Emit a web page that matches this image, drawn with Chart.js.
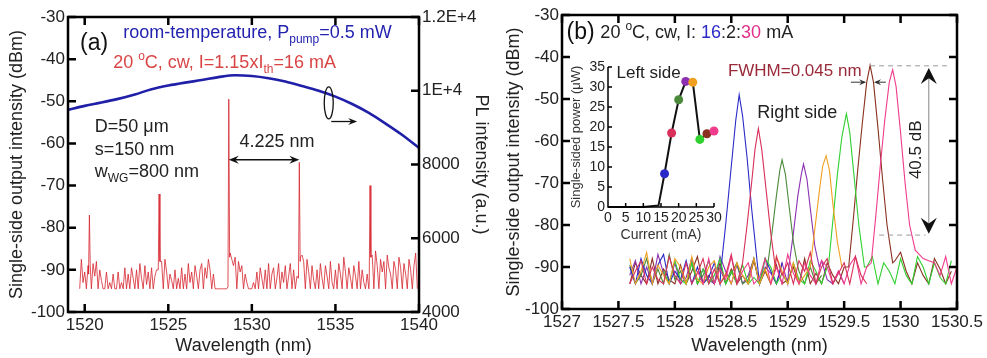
<!DOCTYPE html>
<html><head><meta charset="utf-8">
<script src="https://cdn.jsdelivr.net/npm/chart.js@4.4.0/dist/chart.umd.min.js"></script>
<style>
html,body{margin:0;padding:0;background:#fff;}
#wrap{position:relative;width:987px;height:358px;overflow:hidden;}
canvas{position:absolute;}
</style></head><body>
<div id="wrap">
  <canvas id="cA" width="497" height="358" style="left:0;top:0"></canvas>
  <canvas id="cB" width="490" height="358" style="left:497px;top:0"></canvas>
  <canvas id="cIn" width="165" height="190" style="left:565px;top:55px"></canvas>
</div>
<script>
// Lasing spectra of the microdisk laser: (a) full span near threshold + room-temperature PL,
// (b) right-side spectra for I = 16:2:30 mA, inset = left-side power vs current.
const FONT="'Liberation Sans', Arial, sans-serif";
Chart.defaults.font.family=FONT;
Chart.defaults.color='#222';

// ---- panel (a) ----
const xTicksA=[1520,1525,1530,1535,1540];
const yTicks=[-100,-90,-80,-70,-60,-50,-40,-30];
const plTicks=[4000,6000,8000,10000,12000];
const plTickLabels=['4000','6000','8000','1E+4','1.2E+4'];
// PL intensity (a.u.), right axis
const plWl=[1519,1520,1521,1522,1523,1524,1525,1526,1527,1528,1529,1530,1531,1532,1533,1534,1535,1536,1537,1538,1539,1540];
const plVal=[9480,9590,9680,9780,9900,10040,10140,10220,10290,10370,10420,10400,10340,10250,10130,10000,9840,9640,9400,9110,8800,8450];
// spectrum at I=16 mA: noise samples every 0.1 nm from 1519.7 nm
const aStart=1519.7, aStep=0.1;
const aNoise=[
 -94.5,-87.5,-93,
 -90.5,-94.5,-89,-88,-94.5,-88.5,-91.5,-88,-94.5,-90,
 -92.5,-94.5,-94.5,-90.5,-94.5,-93,-94.5,-91,-94.5,-94.5,
 -90.5,-94.5,-93,-94.5,-89.5,-94.5,-91,-94.5,-89.5,-92,
 -94.5,-90,-94.5,-88.5,-92,-94.5,-89,-93.5,-90.5,-94.5,
 -89.5,-94.5,-91.5,-90,-94.5,-86.5,-88,-94.5,-87.5,-90.5,
 -94.5,-91,-92.5,-94.5,-90,-94.5,-92,-94.5,-89.5,-94.5,
 -91,-94.5,-88.5,-93,-90.5,-94.5,-89,-91.5,-94.5,-90,
 -88.5,-94.5,-89.5,-92,-87.5,-90,-94.5,-91,-94.5,-94.5,
 -94.5,-94.5,-94.5,-94.5,-94.5,-94.5,-94.5,-86,-87.5,-89,
 -87,-94.5,-88,-90.5,-89,-94.5,-91,-93,-94.5,-94.5,
 -94.5,-93,-94.5,-90.5,-94.5,-89.5,-92,-94.5,-90,-94.5,
 -88.5,-94.5,-91,-89.5,-94.5,-92,-88.5,-94.5,-90.5,-93,
 -89,-94.5,-91.5,-88.5,-94.5,-90,-94.5,-91.5,-90,-87,
 -86.5,-88,-94.5,-87.5,-90.5,-94.5,-89,-92.5,-94.5,-90,
 -94.5,-88.5,-92,-94.5,-89,-91.5,-94.5,-88,-93,-94.5,
 -90,-94.5,-88.5,-91,-94.5,-87,-90.5,-94.5,-89.5,-92,
 -94.5,-89,-91.5,-94.5,-88,-94.5,-90,-93,-94.5,-91,
 -94.5,-88,-86.5,-94.5,-85.5,-89,-94.5,-87.5,-90.5,-88,
 -94.5,-86.5,-89.5,-91,-94.5,-88,-90,-94.5,-87,-89.5,
 -94.5,-88.5,-91,-94.5,-87.5,-90,-94.5,-89,-86,-94.5
];
// WGM lasing lines, [wavelength, dBm]
const aLines=[
 [[1520.23,-91],[1520.28,-77],[1520.33,-89]],
 [[1524.40,-90],[1524.45,-72],[1524.50,-88]],
 [[1528.57,-94],[1528.62,-49.5],[1528.67,-87]],
 [[1532.79,-92],[1532.84,-64.5],[1532.89,-88]],
 [[1537.02,-93],[1537.07,-70],[1537.12,-87]]
];

// ---- panel (b) ----
const xTicksB=[1527,1527.5,1528,1528.5,1529,1529.5,1530,1530.5];
const currents=[16,18,20,22,24,26,28,30];
const bColors=['#2a2ac8','#d8305a','#4a8a3a','#8a30b0','#f0a020','#30d030','#8a3020','#f03c8c'];
const bStep=0.05;
const bStarts=[1527.6,1527.6,1527.6,1527.6,1527.6,1527.9,1527.6,1528.2];
const bNoise16=[-90,-94,-88,-92,-94,-89.5,-87,-94,-91,-93,-88.5,-94,-90,-94,-92.5,-89,-94,-91,-94,-94,-94,-94,-94,-94,-88,-91,-94,-89];
const bNoise18=[-94,-91,-88.5,-94,-90,-93,-94,-87.5,-92,-94,-89,-94,-91.5,-88,-94,-90.5,-94,-92,-87,-94,-89.5,-91,-94,-88,-90,-94,-87.5,-92,-89,-94,-88.5,-91,-86.5,-94,-90,-88,-94,-91.5,-89,-94,-87.5,-92,-94];
const bNoise20=[-89.5,-94,-92,-88,-94,-90.5,-94,-87,-93,-91,-94,-89,-94,-92,-88.5,-94,-90,-94,-91.5,-89,-94,-93,-88,-94,-90.5,-94,-89,-92,-94,-88.5,-91,-94,-90,-94,-92];
const bNoise22=[-92,-88.5,-94,-90,-94,-87,-91.5,-94,-89,-94,-92.5,-88,-94,-90.5,-93,-94,-87.5,-91,-94,-89.5,-94,-92,-88,-94,-90,-91.5,-94,-89,-94,-87.5,-92,-94,-90.5,-94,-88.5,-93,-94,-91,-94];
const bNoise24=[-88,-94,-91,-86.5,-94,-89.5,-92,-94,-88,-90,-94,-87.5,-93,-94,-90,-88.5,-94,-91.5,-94,-89,-92,-94,-88,-94,-90.5,-94,-87.5,-91,-94,-89,-94,-92,-90];
const bNoise26=[-91,-94,-88.5,-93,-94,-89,-94,-90.5,-94,-92,-88,-94,-91,-94,-89.5,-94,-92.5,-94,-88,-90,-94,-91.5,-94,-89,-93,-94,-88.5,-91,-94,-90,-87,-94,-89.5,-86.5,-88,-94,-90,-87.5,-94,-89,-91,-94,-88,-92,-94,-87.5,-90,-94,-89,-92.5,-94,-88.5];
const bNoise28=[-94,-89,-92,-94,-88,-94,-90.5,-93,-94,-89.5,-94,-91,-87.5,-94,-92,-94,-89,-94,-90.5,-94,-92,-94,-88.5,-94,-91,-94,-89.5,-94,-93,-90,-94,-88,-94,-91.5,-94,-89,-92,-94,-90,-94,-88,-91,-94,-89.5,-87,-90,-94,-88.5,-86.5,-91,-94,-89,-92,-94,-88,-90.5,-94,-91];
const bNoise30=[-91,-94,-88,-94,-90.5,-93,-87.5,-94,-91,-89,-94,-92.5,-88,-94,-90,-94,-87,-91.5,-94,-89,-92,-94,-88.5,-90,-94,-91,-94,-89.5,-87.5,-94,-90,-92,-94,-87,-86.5,-89,-88,-91,-87.5,-90,-94,-88.5,-89,-92,-87.5,-94,-90];
const bPeak16=[[1528.41,-90],[1528.45,-80],[1528.50,-66],[1528.54,-55],[1528.57,-49],[1528.60,-54],[1528.64,-64],[1528.68,-76],[1528.73,-89]];
const bPeak18=[[1528.60,-89],[1528.64,-80],[1528.68,-70],[1528.71,-62],[1528.74,-57],[1528.77,-62],[1528.81,-72],[1528.85,-82],[1528.89,-90]];
const bPeak20=[[1528.82,-90],[1528.86,-82],[1528.90,-73],[1528.93,-67],[1528.95,-64.5],[1528.98,-68],[1529.01,-75],[1529.05,-84],[1529.09,-90]];
const bPeak22=[[1529.01,-90],[1529.05,-82],[1529.09,-73],[1529.12,-68],[1529.14,-65.5],[1529.17,-69],[1529.20,-76],[1529.24,-85],[1529.28,-90]];
const bPeak24=[[1529.20,-90],[1529.24,-81],[1529.28,-72],[1529.31,-66],[1529.34,-63.5],[1529.37,-67],[1529.40,-75],[1529.44,-84],[1529.48,-90]];
const bPeak26=[[1529.36,-90],[1529.40,-79],[1529.44,-68],[1529.48,-59],[1529.52,-53.5],[1529.55,-58],[1529.59,-69],[1529.63,-80],[1529.68,-90]];
const bPeak28=[[1529.54,-90],[1529.58,-79],[1529.62,-67],[1529.66,-56],[1529.70,-46],[1529.73,-42],[1529.76,-46],[1529.80,-57],[1529.84,-69],[1529.88,-80],[1529.93,-89]];
const bPeak30=[[1529.74,-89],[1529.78,-78],[1529.82,-66],[1529.86,-55],[1529.90,-46],[1529.93,-43],[1529.96,-47],[1530.00,-58],[1530.04,-70],[1530.08,-80],[1530.13,-86],[1530.20,-88]];
const bNoise=[bNoise16,bNoise18,bNoise20,bNoise22,bNoise24,bNoise26,bNoise28,bNoise30];
const bPeaks=[bPeak16,bPeak18,bPeak20,bPeak22,bPeak24,bPeak26,bPeak28,bPeak30];
const bLayer=[4,0,5,6,2,3,7,1];

// ---- inset: left-side power vs current ----
const sweepI=[0,5,10,14.3,16,18,20,22,24,26,28,30];
const sweepP=[0,0,0,0.4,8.3,18.5,26.8,31.4,31.2,16.9,18.3,19.0];
const inXTicks=[0,5,10,15,20,25,30];
const inYTicks=[0,5,10,15,20,25,30,35];

// merge noise samples with the lasing lines (noise under a line is dropped)
function spectrum(start,step,noise,lines){
  const pts=noise.map((y,i)=>({x:+(start+i*step).toFixed(3),y}))
    .filter(p=>!lines.some(l=>p.x>=l[0][0]&&p.x<=l[l.length-1][0]));
  lines.forEach(l=>l.forEach(p=>pts.push({x:p[0],y:p[1]})));
  return pts.sort((a,b)=>a.x-b.x);
}

function setTicks(vals){return s=>{s.ticks=vals.map(v=>({value:v}));};}
function axisBase(size,fmt){
  return {grid:{display:false,drawTicks:false},border:{display:false},
    ticks:{font:{size:size},color:'#222',autoSkip:false,maxRotation:0,padding:3,callback:fmt||(v=>String(v))}};
}

function innerTicks(chart,id,side,len){
  const s=chart.scales[id],a=chart.chartArea,ctx=chart.ctx;
  s.ticks.forEach(t=>{
    const p=s.getPixelForValue(t.value);
    if(side==='bottom'){ctx.moveTo(p,a.bottom);ctx.lineTo(p,a.bottom-len);}
    if(side==='top'){ctx.moveTo(p,a.top);ctx.lineTo(p,a.top+len);}
    if(side==='left'){ctx.moveTo(a.left,p);ctx.lineTo(a.left+len,p);}
    if(side==='right'){ctx.moveTo(a.right,p);ctx.lineTo(a.right-len,p);}
  });
}
function framePlugin(rightId){
  return {id:'frame',afterDraw(chart){
    const ctx=chart.ctx,a=chart.chartArea;
    ctx.save();ctx.strokeStyle='#000';ctx.lineWidth=2.5;
    ctx.strokeRect(a.left,a.top,a.width,a.height);
    ctx.beginPath();
    innerTicks(chart,'x','bottom',8);innerTicks(chart,'x','top',8);
    innerTicks(chart,'y','left',8);innerTicks(chart,rightId,'right',8);
    ctx.stroke();ctx.restore();
  }};
}

// rich text: parts = [text,color,'sub'|'sup'|undefined]
function rich(ctx,x,y,size,parts,align){
  ctx.textBaseline='middle';ctx.textAlign='left';
  const fontOf=k=>(k?Math.round(size*0.68):size)+'px '+FONT;
  let w=0;parts.forEach(p=>{ctx.font=fontOf(p[2]);w+=ctx.measureText(p[0]).width;});
  let cx=align==='center'?x-w/2:x;
  parts.forEach(p=>{
    ctx.font=fontOf(p[2]);ctx.fillStyle=p[1];
    const dy=p[2]==='sub'?size*0.38:(p[2]==='sup'?-size*0.35:0);
    ctx.fillText(p[0],cx,y+dy);cx+=ctx.measureText(p[0]).width;
  });
}
function head(ctx,x1,y1,x2,y2,len,half){
  const an=Math.atan2(y2-y1,x2-x1),c=Math.cos(an),s=Math.sin(an);
  ctx.beginPath();ctx.moveTo(x2,y2);
  ctx.lineTo(x2-len*c+half*s,y2-len*s-half*c);
  ctx.lineTo(x2-len*0.65*c,y2-len*0.65*s);
  ctx.lineTo(x2-len*c-half*s,y2-len*s+half*c);
  ctx.closePath();ctx.fill();
}

const BLUE='#2323b0', RED='#d94545', INK='#222';

// annotations for (a), anchored in data units
const notesA={id:'notesA',afterDatasetsDraw(chart){
  const ctx=chart.ctx,X=v=>chart.scales.x.getPixelForValue(v),Y=v=>chart.scales.y.getPixelForValue(v);
  ctx.save();
  rich(ctx,X(1519.72),Y(-36.3),23,[['(a)','#111']]);
  rich(ctx,X(1522.3),Y(-33.8),18,[['room-temperature, P',BLUE],['pump',BLUE,'sub'],['=0.5 mW',BLUE]]);
  rich(ctx,X(1521.7),Y(-40.9),18,[['20 ',RED],['o',RED,'sup'],['C, cw, I=1.15xI',RED],['th',RED,'sub'],['=16 mA',RED]]);
  rich(ctx,X(1520.6),Y(-56.1),18,[['D=50 \u03bcm',INK]]);
  rich(ctx,X(1520.6),Y(-61.6),18,[['s=150 nm',INK]]);
  rich(ctx,X(1520.6),Y(-66.8),18,[['w',INK],['WG',INK,'sub'],['=800 nm',INK]]);
  rich(ctx,X(1531.5),Y(-59.7),18,[['4.225 nm',INK]],'center');
  // mode spacing arrow
  const ay=Y(-63.9),x1=X(1528.62),x2=X(1532.84);
  ctx.strokeStyle='#111';ctx.fillStyle='#111';ctx.lineWidth=1.5;
  ctx.beginPath();ctx.moveTo(x1+4,ay);ctx.lineTo(x2-4,ay);ctx.stroke();
  head(ctx,x2,ay,x1,ay,10,4);head(ctx,x1,ay,x2,ay,10,4);
  // ellipse + arrow pointing to PL axis
  ctx.lineWidth=1.3;
  ctx.beginPath();ctx.ellipse(X(1534.6),Y(-50.4),4.5,16,0,0,2*Math.PI);ctx.stroke();
  const ey=Y(-54.8);
  ctx.beginPath();ctx.moveTo(X(1534.75),ey);ctx.lineTo(X(1536.1),ey);ctx.stroke();
  head(ctx,X(1534.75),ey,X(1536.3),ey,9,3.5);
  ctx.restore();
}};

// annotations for (b)
const notesB={id:'notesB',afterDatasetsDraw(chart){
  const ctx=chart.ctx,X=v=>chart.scales.x.getPixelForValue(v),Y=v=>chart.scales.y.getPixelForValue(v);
  ctx.save();
  rich(ctx,X(1527.04),Y(-34.3),23,[['(b)','#111']]);
  rich(ctx,X(1527.34),Y(-34.3),18,[['20 ',INK],['o',INK,'sup'],['C, cw, I: ',INK],['16',bColors[0]],[':2:',INK],['30','#e0308a'],[' mA',INK]]);
  rich(ctx,X(1528.47),Y(-43.3),17,[['FWHM=0.045 nm','#9a2a3a']]);
  rich(ctx,X(1528.73),Y(-53.3),18,[['Right side',INK]]);
  // FWHM arrows
  ctx.strokeStyle='#333';ctx.fillStyle='#333';ctx.lineWidth=1;
  const fy=Y(-46);
  ctx.beginPath();ctx.moveTo(X(1529.56),fy);ctx.lineTo(X(1529.68),fy);ctx.moveTo(X(1529.87),fy);ctx.lineTo(X(1529.78),fy);ctx.stroke();
  head(ctx,X(1529.56),fy,X(1529.695),fy,7,3);head(ctx,X(1529.87),fy,X(1529.765),fy,7,3);
  // 40.5 dB extinction markers
  ctx.strokeStyle='#999';ctx.setLineDash([5,4]);
  ctx.beginPath();ctx.moveTo(X(1529.73),Y(-42.1));ctx.lineTo(X(1530.41),Y(-42.1));
  ctx.moveTo(X(1529.81),Y(-82.4));ctx.lineTo(X(1530.22),Y(-82.4));ctx.stroke();
  ctx.setLineDash([]);
  const vx=X(1530.25),vt=Y(-42.6),vb=Y(-82.1);
  ctx.strokeStyle='#888';ctx.beginPath();ctx.moveTo(vx,vt+8);ctx.lineTo(vx,vb-8);ctx.stroke();
  ctx.fillStyle='#111';head(ctx,vx,vb,vx,vt,16,8);head(ctx,vx,vt,vx,vb,16,8);
  ctx.save();ctx.translate(X(1530.14),Y(-62.1));ctx.rotate(-Math.PI/2);
  rich(ctx,0,0,17,[['40.5 dB',INK]],'center');ctx.restore();
  ctx.restore();
}};

// ---------- chart (a) ----------
new Chart(document.getElementById('cA'),{type:'line',
  data:{datasets:[
    {data:plWl.map((w,i)=>({x:w,y:plVal[i]})),yAxisID:'y1',borderColor:'#1f1fa8',borderWidth:2.6,pointRadius:0,tension:0.4,cubicInterpolationMode:'monotone'},
    {data:spectrum(aStart,aStep,aNoise,aLines),yAxisID:'y',borderColor:'rgba(214,38,48,0.9)',borderWidth:0.9,pointRadius:0,tension:0}
  ]},
  options:{responsive:false,animation:false,events:[],
    layout:{padding:{top:17,left:0,right:0,bottom:0}},
    plugins:{legend:{display:false},tooltip:{enabled:false}},
    scales:{
      x:Object.assign(axisBase(17),{type:'linear',min:1519,max:1540,afterBuildTicks:setTicks(xTicksA),
        afterFit:s=>{s.height=46;},
        title:{display:true,text:'Wavelength (nm)',font:{size:18},color:INK,padding:{top:0,bottom:1}}}),
      y:Object.assign(axisBase(17),{min:-100,max:-30,position:'left',afterBuildTicks:setTicks(yTicks),
        afterFit:s=>{s.width=68;},
        title:{display:true,text:'Single-side output intensity (dBm)',font:{size:18},color:INK,padding:{top:6,bottom:0}}}),
      y1:Object.assign(axisBase(17,(v,i)=>plTickLabels[i]),{min:4000,max:12000,position:'right',afterBuildTicks:setTicks(plTicks),
        afterFit:s=>{s.width=78;},
        title:{display:true,text:'PL intensity (a.u.)',font:{size:18},color:INK,padding:{top:5,bottom:0}}})
    }},
  plugins:[framePlugin('y1'),notesA]
});

// ---------- chart (b) ----------
new Chart(document.getElementById('cB'),{type:'line',
  data:{datasets:currents.map((c,k)=>({
    label:c+' mA',data:spectrum(bStarts[k],bStep,bNoise[k],[bPeaks[k]]),
    borderColor:bColors[k],borderWidth:1.1,pointRadius:0,tension:0,order:bLayer[k]}))},
  options:{responsive:false,animation:false,events:[],
    layout:{padding:{top:15,left:0,right:30,bottom:0}},
    plugins:{legend:{display:false},tooltip:{enabled:false}},
    scales:{
      x:Object.assign(axisBase(17),{type:'linear',min:1527,max:1530.5,afterBuildTicks:setTicks(xTicksB),
        afterFit:s=>{s.height=49;},
        title:{display:true,text:'Wavelength (nm)',font:{size:18},color:INK,padding:{top:0,bottom:1}}}),
      y:Object.assign(axisBase(17),{min:-100,max:-30,position:'left',afterBuildTicks:setTicks(yTicks),
        afterFit:s=>{s.width=65;},
        title:{display:true,text:'Single-side output intensity (dBm)',font:{size:18},color:INK,padding:{top:6,bottom:0}}})
    }},
  plugins:[framePlugin('y'),notesB]
});

// ---------- inset ----------
const insetAxes={id:'insetAxes',afterDraw(chart){
  const ctx=chart.ctx,a=chart.chartArea;
  ctx.save();ctx.strokeStyle='#000';ctx.lineWidth=1.5;
  ctx.beginPath();ctx.moveTo(a.left,a.top);ctx.lineTo(a.left,a.bottom);ctx.lineTo(a.right,a.bottom);
  innerTicks(chart,'x','bottom',4);innerTicks(chart,'y','left',4);
  ctx.stroke();ctx.restore();
}};
const insetNote={id:'insetNote',afterDatasetsDraw(chart){
  const X=v=>chart.scales.x.getPixelForValue(v),Y=v=>chart.scales.y.getPixelForValue(v);
  chart.ctx.save();rich(chart.ctx,X(2.4),Y(33.3),17,[['Left side',INK]]);chart.ctx.restore();
}};
new Chart(document.getElementById('cIn'),{type:'line',
  data:{datasets:[{data:sweepI.map((c,i)=>({x:c,y:sweepP[i]})),borderColor:'#111',borderWidth:2,tension:0,clip:8,
    pointRadius:sweepI.map(c=>currents.includes(c)?4.5:0),
    pointBackgroundColor:sweepI.map(c=>currents.includes(c)?bColors[currents.indexOf(c)]:'#111'),
    pointBorderWidth:0}]},
  options:{responsive:false,animation:false,events:[],
    layout:{padding:{top:12,left:0,right:16,bottom:0}},
    plugins:{legend:{display:false},tooltip:{enabled:false}},
    scales:{
      x:Object.assign(axisBase(14),{type:'linear',min:0,max:30,afterBuildTicks:setTicks(inXTicks),
        afterFit:s=>{s.height=38;},
        title:{display:true,text:'Current (mA)',font:{size:14},color:'#333',padding:{top:0,bottom:1}}}),
      y:Object.assign(axisBase(14),{min:0,max:35,afterBuildTicks:setTicks(inYTicks),
        afterFit:s=>{s.width=43;},
        title:{display:true,text:'Single-sided power (\u03bcW)',font:{size:13},color:'#333',padding:{top:4,bottom:0}}})
    }},
  plugins:[insetAxes,insetNote]
});
</script>
</body></html>
